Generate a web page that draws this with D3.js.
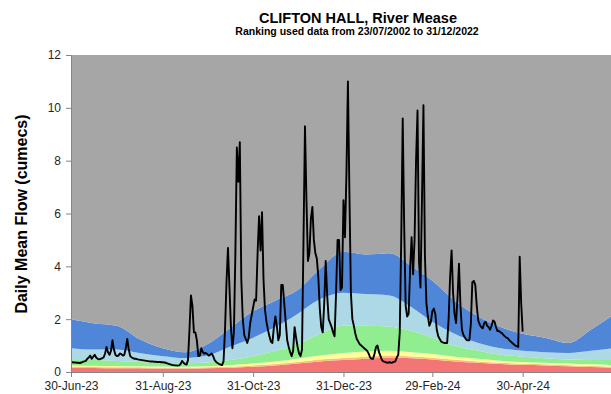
<!DOCTYPE html>
<html>
<head>
<meta charset="utf-8">
<script src="https://cdn.jsdelivr.net/npm/d3@7"></script>
<style>
  body { margin: 0; background: #ffffff; }
  text { font-family: "Liberation Sans", Arial, sans-serif; }
</style>
</head>
<body>
<svg id="chart" width="611" height="394"></svg>
<script>
// Daily mean flow (cumecs), one array per month
const flowJun23 = [0.38];
const flowJul23 = [0.37,0.36,0.36,0.35,0.35,0.34,0.36,0.38,0.4,0.42,0.5,0.55,0.62,0.5,0.58,0.65,0.55,0.5,0.48,0.5,0.52,0.55,0.7,0.95,0.75,0.65,0.8,1.2,0.85,0.65,0.6];
const flowAug23 = [0.62,0.7,0.68,0.62,0.65,0.9,1.25,0.85,0.6,0.55,0.52,0.5,0.5,0.48,0.47,0.46,0.45,0.44,0.43,0.42,0.41,0.4,0.4,0.4,0.39,0.39,0.38,0.38,0.38,0.37,0.37];
const flowSep23 = [0.36,0.35,0.33,0.31,0.29,0.27,0.26,0.25,0.25,0.24,0.25,0.3,0.42,0.35,0.3,0.28,0.45,1.6,2.9,2.5,1.5,1.5,1.2,0.6,0.62,0.9,0.75,0.7,0.72,0.68];
const flowOct23 = [0.62,0.65,0.7,0.6,0.45,0.38,0.34,0.3,0.28,0.26,0.4,1.6,3.4,4.7,3.2,1.7,0.9,1.5,4.5,8.5,7.2,8.7,3.5,2.0,1.4,1.25,1.1,1.3,1.85,2.15,2.45];
const flowNov23 = [2.75,2.7,4.5,5.9,4.6,6.05,3.5,2.35,1.9,1.6,1.35,1.15,1.1,1.7,2.1,1.75,1.2,1.4,3.3,3.3,2.6,1.9,1.2,0.95,0.75,0.6,0.8,1.7,1.3,0.95];
const flowDec23 = [0.7,0.6,0.85,5.0,9.3,6.5,4.2,4.5,5.8,6.25,5.0,4.5,4.3,3.6,2.4,1.7,1.5,2.6,4.2,2.9,2.0,1.85,1.7,1.5,1.35,3.0,5.0,5.0,3.1,3.2,6.5];
const flowJan24 = [5.1,7.5,11.0,6.8,3.0,2.0,1.75,1.45,1.25,1.15,1.05,1.0,0.95,0.9,0.85,0.8,0.7,0.55,0.5,0.5,0.7,0.95,1.0,0.75,0.6,0.45,0.4,0.38,0.36,0.35,0.37];
const flowFeb24 = [0.35,0.36,0.38,0.4,0.55,0.65,1.5,5.0,9.6,5.5,2.5,2.1,2.2,3.9,5.1,3.7,5.0,8.0,9.9,4.2,3.2,6.5,10.1,4.4,2.6,2.1,1.75,1.9,2.3];
const flowMar24 = [2.4,2.2,1.6,1.35,1.25,1.15,1.12,1.1,1.1,1.1,2.0,3.6,4.6,3.0,2.2,1.85,2.8,4.1,2.5,1.6,1.4,1.3,1.22,1.2,1.2,1.8,3.4,3.45,3.3,2.5,1.95];
const flowApr24 = [1.8,1.7,1.65,1.85,1.9,1.75,1.7,1.6,1.75,1.95,1.9,1.7,1.55,1.55,1.5,1.47,1.4,1.35,1.3,1.28,1.2,1.15,1.1,1.05,1.0,0.98,0.95,4.36,2.6,1.53];
const flowStart = "2023-06-30";

// Flow ranking bands: upper limit of each band through the year (cumecs)
const bandDates = ["2023-06-30","2023-07-15","2023-07-31","2023-08-15","2023-08-31","2023-09-15","2023-09-30",
  "2023-10-15","2023-10-31","2023-11-15","2023-11-30","2023-12-15","2023-12-31","2024-01-15","2024-01-31",
  "2024-02-15","2024-02-29","2024-03-15","2024-03-31","2024-04-15","2024-04-30","2024-05-15","2024-05-31",
  "2024-06-15","2024-06-30"];
const redTop       = [0.15,0.15,0.14,0.14,0.13,0.13,0.14,0.16,0.2,0.25,0.32,0.4,0.45,0.5,0.55,0.52,0.47,0.4,0.35,0.3,0.27,0.25,0.22,0.19,0.16];
const orangeTop    = [0.19,0.19,0.18,0.18,0.17,0.17,0.18,0.2,0.25,0.3,0.38,0.47,0.53,0.58,0.62,0.59,0.54,0.46,0.4,0.35,0.31,0.29,0.26,0.23,0.2];
const yellowTop    = [0.25,0.24,0.23,0.22,0.21,0.2,0.22,0.26,0.32,0.4,0.5,0.62,0.72,0.78,0.8,0.75,0.68,0.58,0.5,0.43,0.38,0.35,0.32,0.29,0.26];
const greenTop     = [0.45,0.45,0.42,0.38,0.35,0.33,0.36,0.45,0.6,0.8,1.05,1.45,1.75,1.75,1.72,1.55,1.3,1.0,0.8,0.65,0.58,0.52,0.47,0.45,0.45];
const lightBlueTop = [0.9,0.85,0.85,0.72,0.6,0.53,0.62,0.95,1.3,1.7,2.2,2.75,3.0,2.95,2.9,2.45,1.9,1.45,1.1,0.9,0.8,0.75,0.72,0.8,0.9];
const blueTop      = [2.0,1.85,1.75,1.25,0.9,0.75,1.05,1.65,2.3,2.7,3.1,3.9,4.55,4.45,4.5,4.0,3.45,2.7,2.1,1.7,1.45,1.3,1.1,1.6,2.15];
const bandColours  = ["#f47575","#f9c27a","#ffff99","#90ee90","#add8e6","#4f86d8","#a6a6a6"];

const xTickDates = ["2023-06-30","2023-08-31","2023-10-31","2023-12-31","2024-02-29","2024-04-30"];
const yTicks = [0,2,4,6,8,10,12];
const yMax = 12;

const svg = d3.select("#chart");
const parse = d3.utcParse("%Y-%m-%d");
const fmt = d3.utcFormat("%-d-%b-%y");

const x = d3.scaleUtc()
  .domain([parse("2023-06-30"), parse("2024-06-30")])
  .range([71, 613]);
const y = d3.scaleLinear().domain([0, yMax]).range([372, 55]);

const clip = svg.append("defs").append("clipPath").attr("id", "plot-clip");
clip.append("rect").attr("x", 71).attr("y", 55).attr("width", 542).attr("height", 317);

// Stacked ranking bands
const bandDays = bandDates.map(parse);
const limits = [bandDates.map(() => 0), redTop, orangeTop, yellowTop, greenTop, lightBlueTop, blueTop, bandDates.map(() => yMax)];
const bands = svg.append("g").attr("clip-path", "url(#plot-clip)");
for (let i = 0; i < bandColours.length; i++) {
  const lo = limits[i], hi = limits[i + 1];
  const area = d3.area()
    .x((d, k) => x(bandDays[k]))
    .y0((d, k) => y(lo[k]))
    .y1((d, k) => y(hi[k]))
    .curve(d3.curveMonotoneX);
  bands.append("path")
    .datum(bandDays)
    .attr("d", area)
    .attr("fill", bandColours[i]);
}

// Daily flow line
const flows = [].concat(flowJun23, flowJul23, flowAug23, flowSep23, flowOct23, flowNov23,
  flowDec23, flowJan24, flowFeb24, flowMar24, flowApr24);
const start = parse(flowStart);
const flowData = flows.map((v, i) => ({ date: d3.utcDay.offset(start, i), value: v }));
svg.append("path")
  .datum(flowData)
  .attr("clip-path", "url(#plot-clip)")
  .attr("fill", "none")
  .attr("stroke", "#000")
  .attr("stroke-width", 1.9)
  .attr("stroke-linejoin", "round")
  .attr("d", d3.line().x(d => x(d.date)).y(d => y(d.value)));

// Axes
const yAxis = d3.axisLeft(y).tickValues(yTicks).tickSize(5).tickPadding(5).tickFormat(d3.format("d"));
const gy = svg.append("g").attr("transform", "translate(71,0)").call(yAxis);
const xAxis = d3.axisBottom(x).tickValues(xTickDates.map(parse)).tickSize(5).tickPadding(4).tickFormat(fmt);
const gx = svg.append("g").attr("transform", "translate(0,372)").call(xAxis);
[gx, gy].forEach(g => {
  g.select(".domain").attr("stroke", "#868686");
  g.selectAll(".tick line").attr("stroke", "#868686");
  g.selectAll(".tick text").attr("fill", "#262626").style("font-size", "12px")
    .style("font-family", "'Liberation Sans', Arial, sans-serif");
});

// Titles
svg.append("text").attr("x", 358).attr("y", 23).attr("text-anchor", "middle")
  .style("font-size", "14.5px").style("font-weight", "bold").attr("fill", "#000")
  .text("CLIFTON HALL, River Mease");
svg.append("text").attr("x", 357).attr("y", 35).attr("text-anchor", "middle")
  .style("font-size", "10.5px").style("font-weight", "bold").attr("fill", "#000")
  .text("Ranking used data from 23/07/2002 to 31/12/2022");
svg.append("text").attr("transform", "translate(27,214) rotate(-90)").attr("text-anchor", "middle")
  .style("font-size", "16px").style("font-weight", "bold").attr("fill", "#000")
  .text("Daily Mean Flow (cumecs)");
</script>
</body>
</html>
